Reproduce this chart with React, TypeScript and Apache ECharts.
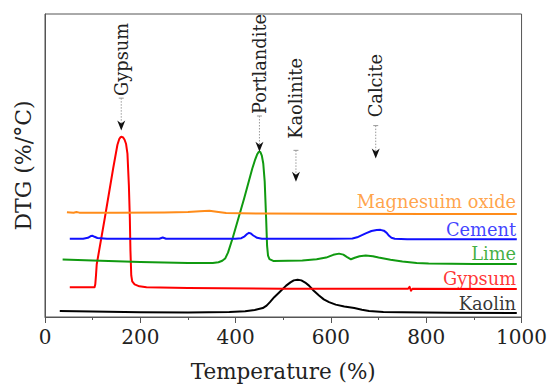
import React, { useEffect, useRef } from "react";
import * as echarts from "echarts";

const FONT = '"DejaVu Serif", "Liberation Serif", serif';

const xTicks = [0, 200, 400, 600, 800, 1000];

const kaolin: number[][] = [
  [31, 6], [100, 5.5], [200, 4.8], [300, 4.5], [387, 5], [420, 5.8], [440, 7], [457, 9], [465, 11.5],
  [472, 15], [481, 20], [494, 26], [506, 31.7], [515, 35], [522, 37], [530, 37.7], [538, 37],
  [546, 34.8], [554, 31.7], [564, 26.5], [575, 21.7], [585, 17.8], [596, 15], [610, 12.5], [628, 10.7],
  [649, 9], [665, 7.3], [680, 6], [710, 5.1], [749, 4.7], [850, 4.2], [990, 4],
];
const gypsum: number[][] = [
  [52, 30], [80, 30], [104, 30], [105.5, 33], [107, 42], [108.5, 53], [125.5, 100], [143, 150],
  [152, 174], [156, 180], [159, 181.8], [161, 182], [164, 181.3], [167, 179], [170, 175], [173, 165],
  [176, 133], [178, 100], [179.3, 67], [181, 42], [183, 36], [188, 33], [198, 31], [213, 30],
  [300, 29.2], [500, 28.6], [762, 28.5], [765, 30.5], [768, 26.5], [771, 28.5], [990, 28.3],
];
const lime: number[][] = [
  [37, 58], [100, 57], [200, 55.5], [300, 54.5], [352, 54.5], [364, 55.3], [372, 56.8], [378, 59],
  [384, 65], [394, 80], [418, 120], [435, 150], [441, 159], [445, 164], [448, 166.5], [450, 167],
  [452, 166.5], [455, 163], [458, 155], [461, 137], [464, 100], [466, 72], [468, 62], [471, 58.5],
  [480, 56.5], [540, 57], [570, 58.3], [590, 60], [605, 62.8], [617, 64], [626, 63], [634, 60.5],
  [642, 58.3], [650, 59.8], [660, 61.3], [673, 62], [688, 61.3], [700, 60], [725, 57.8], [750, 56],
  [780, 54.6], [805, 54], [900, 53.5], [990, 53.5],
];
const cement: number[][] = [
  [52, 79], [80, 79], [90, 80], [96, 81.7], [100, 82], [104, 81], [110, 79.8], [130, 79], [200, 79],
  [240, 79], [247, 80.3], [254, 79], [300, 79], [400, 79], [412, 79.6], [419, 81.5], [424, 83.8],
  [428, 85], [432, 84.3], [437, 82.3], [445, 80], [455, 79], [500, 79], [600, 79], [645, 79.3],
  [655, 80.5], [664, 82.5], [673, 84.5], [685, 86.8], [696, 87.9], [704, 88], [711, 87.2], [717, 85],
  [722, 82], [727, 80], [734, 79], [760, 78.5], [990, 78.5],
];
const magnesium: number[][] = [
  [46, 105.7], [60, 105.3], [66, 106], [72, 105.4], [80, 105.2], [150, 105.3], [250, 105.5],
  [300, 106], [325, 106.8], [345, 107.4], [360, 106.3], [380, 105], [450, 104.5], [600, 104.2],
  [800, 104], [990, 104],
];

const seriesNames = ["Kaolin", "Gypsum", "Lime", "Cement", "Magnesuim oxide"];
const seriesData = [kaolin, gypsum, lime, cement, magnesium];
const seriesColors = ["#000000", "#FF0000", "#109A10", "#1010FF", "#FF8C1A"];
// label anchor (right edge, vertical centre) in data units
const labelAnchors: number[][] = [[988.5, 13.3], [988.5, 39.3], [988.5, 64], [988.5, 88.3], [988.5, 117]];

// annotations: name, x, text start, small tick, arrow tip (data units)
const annNames = ["Gypsum", "Portlandite", "Kaolinite", "Calcite"];
const annValues: number[][] = [
  [160, 223.3, 221, 188.3],
  [450, 205, 203, 167],
  [526.6, 180, 168.3, 136.7],
  [694, 201.7, 193.3, 160],
];

export default function App() {
  const ref = useRef<HTMLDivElement>(null);
  useEffect(() => {
    document.body.style.margin = "0";
    document.body.style.overflow = "hidden";
    document.documentElement.style.overflow = "hidden";
    if (!ref.current) return;
    const chart = echarts.init(ref.current, null, { renderer: "svg" });
    const lines = seriesData.map((d, i) => ({
      type: "line",
      name: seriesNames[i],
      data: d,
      showSymbol: false,
      smooth: false,
      lineStyle: { color: seriesColors[i], width: 2, join: "round" },
      itemStyle: { color: seriesColors[i] },
      z: 3,
      silent: true,
    }));
    const option: any = {
      animation: false,
      grid: { left: 45, right: 27, top: 14, bottom: 67, show: true, borderColor: "#555", borderWidth: 1, backgroundColor: "transparent" },
      xAxis: {
        type: "value",
        min: xTicks[0],
        max: xTicks[xTicks.length - 1],
        interval: 200,
        name: "Temperature (%)",
        nameLocation: "middle",
        nameGap: 43,
        nameTextStyle: { fontFamily: FONT, fontSize: 21.5, color: "#222" },
        axisLine: { lineStyle: { color: "#555", width: 1 } },
        axisTick: { show: true, length: 6, lineStyle: { color: "#555" } },
        minorTick: { show: true, splitNumber: 2, length: 3, lineStyle: { color: "#555" } },
        splitLine: { show: false },
        axisLabel: { fontFamily: FONT, fontSize: 20, color: "#222", margin: 10, formatter: (v: number) => String(v) },
      },
      yAxis: {
        type: "value",
        min: 0,
        max: 306,
        name: "DTG (%/°C)",
        nameLocation: "middle",
        nameGap: 11,
        nameRotate: 90,
        nameTextStyle: { fontFamily: FONT, fontSize: 22, color: "#222" },
        axisLine: { show: true, lineStyle: { color: "#555", width: 1 } },
        axisTick: { show: false },
        axisLabel: { show: false },
        splitLine: { show: false },
      },
      series: [
        ...lines,
        {
          type: "scatter",
          symbolSize: 0,
          silent: true,
          z: 4,
          data: labelAnchors.map((p, i) => ({
            value: p,
            name: seriesNames[i],
            label: {
              show: true,
              position: "left",
              distance: 0,
              formatter: seriesNames[i],
              color: seriesColors[i],
              fontFamily: FONT,
              fontSize: 17.8,
            },
          })),
        },
        {
          type: "custom",
          silent: true,
          clip: false,
          z: 5,
          encode: { x: 0, y: 1 },
          data: annValues,
          renderItem: (params: any, api: any) => {
            const x = api.value(0);
            const pText = api.coord([x, api.value(1)]);
            const pTick = api.coord([x, api.value(2)]);
            const pTip = api.coord([x, api.value(3)]);
            const name = annNames[params.dataIndex];
            return {
              type: "group",
              children: [
                {
                  type: "text",
                  x: pText[0],
                  y: pText[1],
                  rotation: Math.PI / 2,
                  style: {
                    text: name,
                    fontFamily: FONT,
                    fontSize: 17.8,
                    fill: "#222",
                    align: "left",
                    verticalAlign: "middle",
                  },
                },
                {
                  type: "line",
                  shape: { x1: pTick[0] - 2.5, y1: pTick[1], x2: pTick[0] + 2.5, y2: pTick[1] },
                  style: { stroke: "#999", lineWidth: 1 },
                },
                {
                  type: "line",
                  shape: { x1: pTick[0], y1: pTick[1], x2: pTip[0], y2: pTip[1] - 7 },
                  style: { stroke: "#999", lineWidth: 1, lineDash: [1.5, 1.5] },
                },
                {
                  type: "polygon",
                  shape: {
                    points: [
                      [pTip[0], pTip[1]],
                      [pTip[0] - 4, pTip[1] - 10],
                      [pTip[0], pTip[1] - 7],
                      [pTip[0] + 4, pTip[1] - 10],
                    ],
                  },
                  style: { fill: "#111" },
                },
              ],
            };
          },
        },
      ],
    };
    chart.setOption(option);
    return () => chart.dispose();
  }, []);
  return <div ref={ref} style={{ width: 550, height: 387, background: "#fff" }} />;
}
